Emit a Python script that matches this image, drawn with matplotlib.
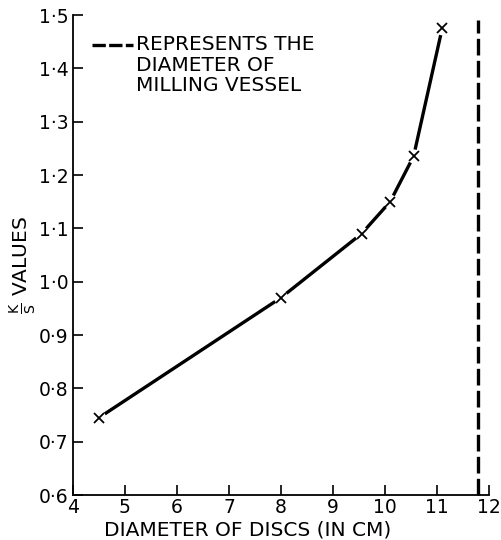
import matplotlib.pyplot as plt
from matplotlib.ticker import FuncFormatter

# disc diameter (cm) vs K/S
disc_diameter = [4.5, 8.0, 9.55, 10.1, 10.55, 11.1]
ks_values = [0.745, 0.97, 1.09, 1.15, 1.235, 1.475]
vessel_diameter = 11.78

x_ticks = [4, 5, 6, 7, 8, 9, 10, 11, 12]
y_ticks = [0.6, 0.7, 0.8, 0.9, 1.0, 1.1, 1.2, 1.3, 1.4, 1.5]

plt.rcParams["font.family"] = ["DejaVu Sans"]

fig = plt.figure(figsize=(5.01, 5.40), dpi=100)
ax = fig.add_axes([0.1457, 0.0833, 0.8303, 0.8889])

# curve segments, pulled back from each cross
for i in range(len(disc_diameter) - 1):
    ax.annotate(
        "",
        xy=(disc_diameter[i + 1], ks_values[i + 1]),
        xytext=(disc_diameter[i], ks_values[i]),
        arrowprops=dict(arrowstyle="-", shrinkA=5, shrinkB=5, lw=2.4,
                        color="black", capstyle="butt"),
    )
ax.plot(disc_diameter, ks_values, ls="none", marker="x", ms=7, mew=1.3,
        color="black")

# milling vessel wall
ax.plot([vessel_diameter, vessel_diameter], [0.6, 1.49], color="black",
        lw=2.4, ls=(0, (5.0, 1.6)), clip_on=False, zorder=3)

# key in the top-left corner
ax.plot([4.37, 5.15], [1.444, 1.444], color="black", lw=2.4,
        ls=(0, (4.0, 1.0)))
ax.text(5.22, 1.462, "REPRESENTS THE\nDIAMETER OF\nMILLING VESSEL",
        ha="left", va="top", fontsize=14.5, linespacing=1.1)

ax.set_xlim(4, 12)
ax.set_ylim(0.6, 1.5)
ax.set_xticks(x_ticks)
ax.set_yticks(y_ticks)
ax.yaxis.set_major_formatter(FuncFormatter(lambda v, p: f"{v:.1f}".replace(".", "\u00b7")))

for side in ["top", "right"]:
    ax.spines[side].set_visible(False)
for side in ["left", "bottom"]:
    ax.spines[side].set_linewidth(1.3)

ax.tick_params(direction="in", length=7, width=1.2, labelsize=13.5, pad=3)
ax.tick_params(axis="x", pad=2)

ax.set_xlabel("DIAMETER OF DISCS (IN CM)", fontsize=14.5)
ax.xaxis.set_label_coords(0.42, -0.054)
ax.set_ylabel(r"$\frac{\mathrm{K}}{\mathrm{S}}$ VALUES", fontsize=14.5)
ax.yaxis.set_label_coords(-0.085, 0.48)

fig.savefig("out.png", dpi=100)
